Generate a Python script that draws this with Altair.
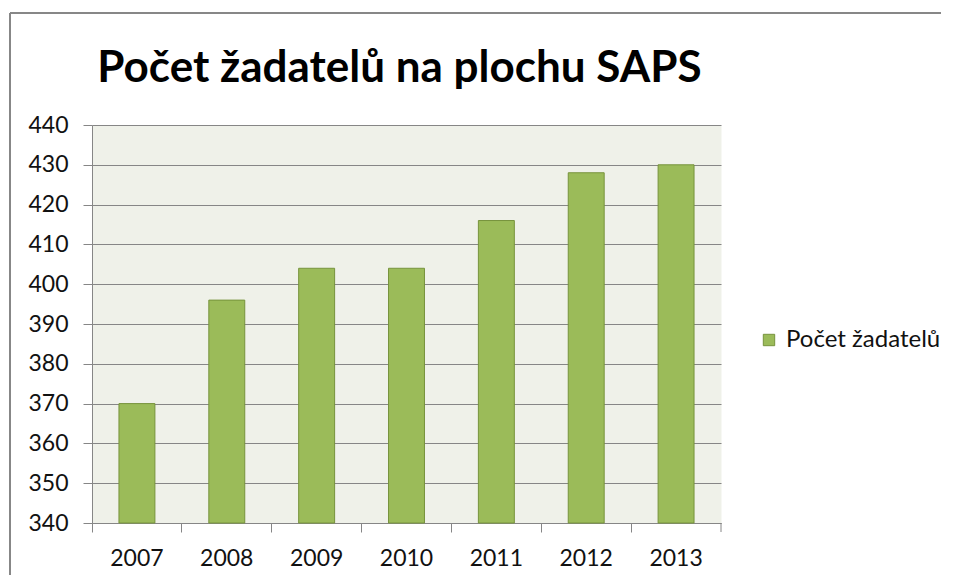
import altair as alt
import pandas as pd

# ---- data ----
years = ["2007", "2008", "2009", "2010", "2011", "2012", "2013"]
values = [370, 396, 404, 404, 416, 428, 430]
series_name = "Počet žadatelů"
chart_title = "Počet žadatelů na plochu SAPS"
y_ticks = [340, 350, 360, 370, 380, 390, 400, 410, 420, 430, 440]
y_min, y_max = 340, 440

df = pd.DataFrame({"rok": years, "pocet": values, "serie": [series_name] * len(years)})

W, H = 629, 398
GREY = "#868686"
FONT = "Lato"

bars = alt.Chart(df).mark_bar(
    width=alt.RelativeBandSize(0.4), stroke="#77933C", strokeWidth=1
).encode(
    x=alt.X(
        "rok:N", sort=years, title=None,
        scale=alt.Scale(paddingInner=0, paddingOuter=0),
        axis=alt.Axis(
            bandPosition=0, labelAngle=0, domainColor=GREY, tickColor=GREY,
            tickSize=9, labelPadding=15, labelFont=FONT, labelFontSize=23,
            labelColor="#111111", grid=False,
        ),
    ),
    y=alt.Y(
        "pocet:Q", title=None,
        scale=alt.Scale(domain=[y_min, y_max], nice=False, zero=False),
        axis=alt.Axis(
            values=y_ticks, grid=True, gridColor=GREY, domainColor=GREY,
            tickColor=GREY, tickSize=9, labelPadding=15, labelFont=FONT,
            labelFontSize=23, labelColor="#111111",
        ),
    ),
    y2=alt.datum(y_min),
    color=alt.Color(
        "serie:N", scale=alt.Scale(range=["#9BBB59"]),
        legend=alt.Legend(
            title=None, orient="none", legendX=665, legendY=203,
            symbolType="square", symbolSize=130, symbolStrokeColor="#77933C",
            symbolStrokeWidth=1, symbolOpacity=1, labelFont=FONT, labelFontSize=24,
            labelColor="#111111", labelOffset=5,
        ),
    ),
)

one = pd.DataFrame({"k": [0]})
end_tick = alt.Chart(one).mark_rule(color=GREY, strokeWidth=1).encode(
    x=alt.value(W), y=alt.value(H), y2=alt.value(H + 9)
)
frame_left = alt.Chart(one).mark_rule(color="#878787", strokeWidth=2, clip=False).encode(
    x=alt.value(-82), y=alt.value(-112), y2=alt.value(H + 200)
)
frame_top = alt.Chart(one).mark_rule(color="#878787", strokeWidth=2, clip=False).encode(
    y=alt.value(-112), x=alt.value(-82), x2=alt.value(W + 400)
)

chart = alt.layer(bars, end_tick, frame_left, frame_top).properties(
    width=W, height=H,
    padding={"left": 84, "top": 117, "right": 220, "bottom": 52},
    autosize=alt.AutoSizeParams(type="none"),
    title=alt.TitleParams(
        chart_title, font=FONT, fontSize=44, fontWeight="bold", color="#000000",
        anchor="middle", dx=-7, offset=-114, baseline="alphabetic",
    ),
).configure_view(fill="#EFF1E9", stroke="transparent")

chart.save("out.html", embed_options={"renderer": "svg", "actions": False})
